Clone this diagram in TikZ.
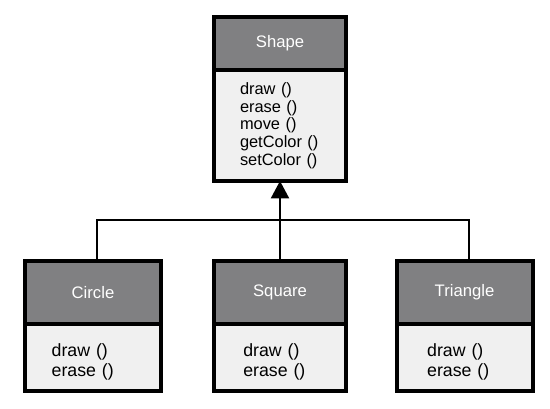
\documentclass[tikz,border=0pt]{standalone}
\usepackage{fontspec}
\setmainfont{Liberation Sans}
\usetikzlibrary{arrows.meta}

\definecolor{headgray}{RGB}{128,128,130}
\definecolor{bodygray}{RGB}{240,240,240}

\tikzset{
  headbox/.style={draw, line width=3pt, fill=headgray, text=white, outer sep=0pt,
    font=\fontsize{12.5}{15}\selectfont},
  bodybox/.style={draw, line width=3pt, fill=bodygray, outer sep=0pt, anchor=north,
    align=left, inner xsep=20pt},
  smallbody/.style={bodybox, minimum height=50.25pt, text height=15.7pt,
    font=\fontsize{13.3}{15}\selectfont},
  link/.style={line width=1.5pt}
}

\begin{document}
\begin{tikzpicture}[x=0.75pt,y=0.75pt,yscale=-1,xscale=1]
	%set diagram size to the reference
	\useasboundingbox (0,0) rectangle (550,409);
	
	%Class: Shape
	\node [headbox, minimum width=99pt, minimum height=39.75pt] (shapeHead) at (280,43.5) {Shape};
	\node [bodybox, minimum width=99pt, text width=60pt, inner xsep=19.5pt, minimum height=83.25pt,
		font=\fontsize{12.3}{13.3}\selectfont] (shapeBody) at (shapeHead.south)
		{draw ()\\erase ()\\move ()\\getColor ()\\setColor ()};
	
	%Class: Circle
	\node [headbox, minimum width=102pt, minimum height=47.25pt] (circleHead) at (93,292.5) {Circle};
	\node [smallbody, minimum width=102pt, text width=62pt] (circleBody) at (circleHead.south)
		{draw ()\\erase ()};
	
	%Class: Square
	\node [headbox, minimum width=99pt, minimum height=47.25pt] (squareHead) at (280,292.5) {Square};
	\node [smallbody, minimum width=99pt, text width=55pt, inner xsep=22pt] (squareBody) at (squareHead.south)
		{draw ()\\erase ()};
	
	%Class: Triangle
	\node [headbox, minimum width=102pt, minimum height=47.25pt] (triangleHead) at (464.5,292.5) {Triangle};
	\node [smallbody, minimum width=102pt, text width=56pt, inner xsep=23pt] (triangleBody) at (triangleHead.south)
		{draw ()\\erase ()};
	
	%Inheritance lines
	\coordinate (bar) at (280,220);
	\draw [link] ([xshift=3pt]circleHead.north) |- (bar) -| ([xshift=3pt]triangleHead.north);
	\draw [link, -{Triangle[width=13.5pt,length=13pt]}] (squareHead.north) -- (shapeBody.south);
	
\end{tikzpicture}
\end{document}
